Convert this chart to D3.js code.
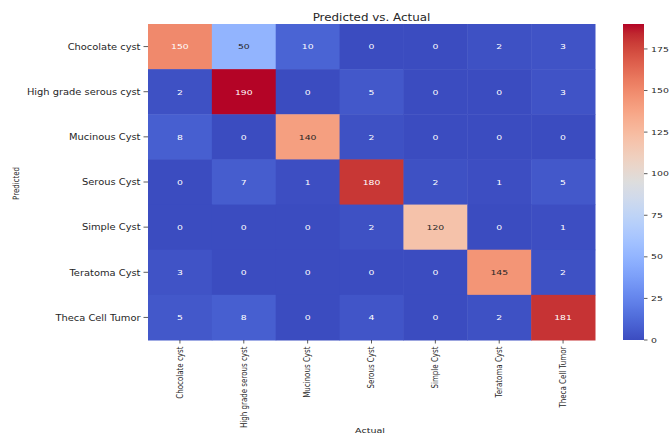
<!DOCTYPE html>
<html>
<head>
<meta charset="utf-8">
<script src="https://cdn.jsdelivr.net/npm/d3@7/dist/d3.min.js"></script>
<style>
  html, body { margin: 0; padding: 0; background: #fff; }
  svg { display: block; }
  text { font-family: "DejaVu Sans", sans-serif; fill: #262626; }
</style>
</head>
<body>
<svg id="chart" width="670" height="434"></svg>
<script>
// Class labels (rows = predicted, columns = actual)
const predictedLabels = ["Chocolate cyst", "High grade serous cyst", "Mucinous Cyst", "Serous Cyst", "Simple Cyst", "Teratoma Cyst", "Theca Cell Tumor"];
const actualLabels = ["Chocolate cyst", "High grade serous cyst", "Mucinous Cyst", "Serous Cyst", "Simple Cyst", "Teratoma Cyst", "Theca Cell Tumor"];

// Confusion-matrix counts, one array per predicted class
const rowChocolate = [150, 50, 10, 0, 0, 2, 3];
const rowHighGrade = [2, 190, 0, 5, 0, 0, 3];
const rowMucinous  = [8, 0, 140, 2, 0, 0, 0];
const rowSerous    = [0, 7, 1, 180, 2, 1, 5];
const rowSimple    = [0, 0, 0, 2, 120, 0, 1];
const rowTeratoma  = [3, 0, 0, 0, 0, 145, 2];
const rowTheca     = [5, 8, 0, 4, 0, 2, 181];
const matrix = [rowChocolate, rowHighGrade, rowMucinous, rowSerous, rowSimple, rowTeratoma, rowTheca];

const colorbarTicks = [0, 25, 50, 75, 100, 125, 150, 175];

// Moreland "coolwarm" diverging map control colours
const coolwarm = [
  [59,76,192],[68,90,204],[77,104,215],[87,117,225],[98,130,234],[108,142,241],
  [119,154,247],[130,165,251],[141,176,254],[152,185,255],[163,194,255],[174,201,253],
  [184,208,249],[194,213,244],[204,217,238],[213,219,230],[221,221,221],[229,216,209],
  [236,211,197],[241,204,185],[245,196,173],[247,187,160],[247,177,148],[247,166,135],
  [244,154,123],[241,141,111],[236,127,99],[229,112,88],[222,96,77],[213,80,66],
  [203,62,56],[192,40,47],[180,4,38]
].map(c => d3.rgb(c[0], c[1], c[2]).toString());

const svg = d3.select("#chart");

const plotLeft = 148, plotRight = 595, plotTop = 24, plotBottom = 340;
const allValues = matrix.flat();
const vmax = d3.max(allValues), vmin = 0;

const x = d3.scaleBand().domain(actualLabels).range([plotLeft, plotRight]);
const y = d3.scaleBand().domain(predictedLabels).range([plotTop, plotBottom]);

const cmapStops = d3.range(coolwarm.length).map(i => vmin + (vmax - vmin) * i / (coolwarm.length - 1));
const color = d3.scaleLinear().domain(cmapStops).range(coolwarm).interpolate(d3.interpolateRgb).clamp(true);

// text glyphs are drawn a little wider than tall
function stretchedText(sel, px, py, sx, rot) {
  return sel.attr("transform", `translate(${px},${py}) scale(${sx},1)` + (rot ? ` rotate(${rot})` : ""));
}

function luminance(c) {
  const rgb = d3.rgb(c);
  const lin = v => { v /= 255; return v <= 0.03928 ? v / 12.92 : Math.pow((v + 0.055) / 1.055, 2.4); };
  return 0.2126 * lin(rgb.r) + 0.7152 * lin(rgb.g) + 0.0722 * lin(rgb.b);
}

// cells
const cells = [];
matrix.forEach((row, i) => row.forEach((v, j) => cells.push({ r: predictedLabels[i], c: actualLabels[j], v })));

svg.append("g").selectAll("rect").data(cells).join("rect")
  .attr("x", d => x(d.c))
  .attr("y", d => y(d.r))
  .attr("width", x.bandwidth() + 0.5)
  .attr("height", y.bandwidth() + 0.5)
  .attr("fill", d => color(d.v));

// annotations
const ann = svg.append("g").selectAll("text").data(cells).join("text")
  .attr("text-anchor", "middle")
  .attr("dominant-baseline", "central")
  .style("font-size", "7.3px")
  .style("fill", d => luminance(color(d.v)) > 0.408 ? "#262626" : "#ffffff")
  .text(d => d.v);
ann.each(function(d) {
  stretchedText(d3.select(this), x(d.c) + x.bandwidth() / 2, y(d.r) + y.bandwidth() / 2 + 0.3, 1.27);
});

// y axis (Predicted)
const yAxis = svg.append("g");
predictedLabels.forEach(lbl => {
  const cy = y(lbl) + y.bandwidth() / 2;
  yAxis.append("line").attr("x1", plotLeft - 4.5).attr("x2", plotLeft).attr("y1", cy).attr("y2", cy)
    .attr("stroke", "#333").attr("stroke-width", 0.8);
  stretchedText(yAxis.append("text"), plotLeft - 7.5, cy, 1.15)
    .attr("text-anchor", "end").attr("dominant-baseline", "central")
    .style("font-size", "8.6px").text(lbl);
});

// x axis (Actual)
const xAxis = svg.append("g");
actualLabels.forEach(lbl => {
  const cx = x(lbl) + x.bandwidth() / 2;
  xAxis.append("line").attr("x1", cx).attr("x2", cx).attr("y1", plotBottom).attr("y2", plotBottom + 3.5)
    .attr("stroke", "#333").attr("stroke-width", 0.8);
  stretchedText(xAxis.append("text"), cx, plotBottom + 6.5, 1.26, -90)
    .attr("text-anchor", "end").attr("dominant-baseline", "central")
    .style("font-size", "7.1px").text(lbl);
});

// title and axis labels
stretchedText(svg.append("text"), (plotLeft + plotRight) / 2, 20.5, 1.19)
  .attr("text-anchor", "middle").style("font-size", "10px").text("Predicted vs. Actual");
stretchedText(svg.append("text"), 16, 183.5, 1.25, -90)
  .attr("text-anchor", "middle").attr("dominant-baseline", "central")
  .style("font-size", "7px").text("Predicted");
stretchedText(svg.append("text"), 370, 433, 1.27)
  .attr("text-anchor", "middle").style("font-size", "7.5px").text("Actual");

// colorbar
const cbLeft = 623, cbRight = 644;
const cbScale = d3.scaleLinear().domain([vmin, vmax]).range([plotBottom, plotTop]);
const defs = svg.append("defs");
const grad = defs.append("linearGradient").attr("id", "cbGrad")
  .attr("x1", 0).attr("y1", 1).attr("x2", 0).attr("y2", 0);
d3.range(0, 1.0001, 1 / 64).forEach(t => {
  grad.append("stop").attr("offset", t).attr("stop-color", color(vmin + t * (vmax - vmin)));
});
svg.append("rect").attr("x", cbLeft).attr("y", plotTop).attr("width", cbRight - cbLeft)
  .attr("height", plotBottom - plotTop).attr("fill", "url(#cbGrad)");

const cbAxis = svg.append("g");
colorbarTicks.forEach(t => {
  const ty = cbScale(t);
  cbAxis.append("line").attr("x1", cbRight).attr("x2", cbRight + 3.5).attr("y1", ty).attr("y2", ty)
    .attr("stroke", "#333").attr("stroke-width", 0.8);
  stretchedText(cbAxis.append("text"), cbRight + 7, ty, 1.3)
    .attr("text-anchor", "start").attr("dominant-baseline", "central")
    .style("font-size", "7.2px").text(t);
});
</script>
</body>
</html>
